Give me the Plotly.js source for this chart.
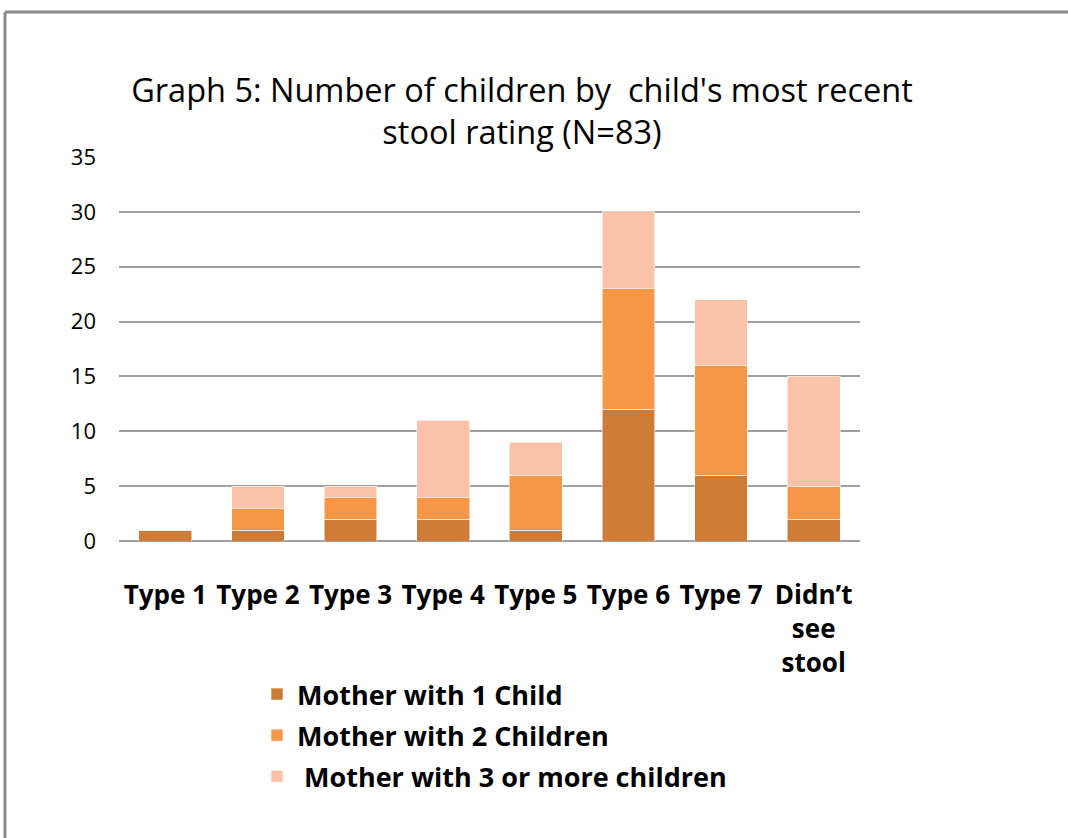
<!DOCTYPE html>
<html>
<head>
<meta charset="utf-8">
<script src="https://cdn.plot.ly/plotly-3.0.1.min.js"></script>
<style>
  html, body { margin: 0; padding: 0; background: #ffffff; }
  #chart { width: 1068px; height: 838px; }
</style>
</head>
<body>
<div id="chart"></div>
<script>
const categories = ["Type 1", "Type 2", "Type 3", "Type 4", "Type 5", "Type 6", "Type 7", "Didn’t<br>see<br>stool"];
const seriesNames = ["Mother with 1 Child", "Mother with 2 Children", " Mother with 3 or more children"];
const motherWith1Child = [1, 1, 2, 2, 1, 12, 6, 2];
const motherWith2Children = [0, 2, 2, 2, 5, 11, 10, 3];
const motherWith3OrMore = [0, 2, 1, 7, 3, 7, 6, 10];
const yTickValues = [0, 5, 10, 15, 20, 25, 30, 35];
const colors = ["#CD7B37", "#F79646", "#FAC3A9"];

const FONT = "'Open Sans', 'Noto Sans', sans-serif";
const seriesData = [motherWith1Child, motherWith2Children, motherWith3OrMore];

const traces = seriesData.map((vals, i) => ({
  type: "bar",
  name: seriesNames[i],
  legendgroup: "g" + i,
  x: categories,
  y: vals,
  marker: { color: colors[i], line: { color: "rgba(255,255,255,0.55)", width: 1 } },
  hoverinfo: "x+y+name"
}));

const L = 119, R = 860, T = 157, B = 541, W = 1068, H = 838;
const pw = R - L, ph = B - T;
const px = v => (v - L) / pw;
const py = v => (B - v) / ph;

const layout = {
  width: W,
  height: H,
  margin: { l: L, r: W - R, t: T, b: H - B, pad: 0 },
  paper_bgcolor: "#ffffff",
  plot_bgcolor: "#ffffff",
  barmode: "stack",
  bargap: 0.43,
  font: { family: FONT, color: "#000000" },
  title: {
    text: "Graph 5: Number of children by  child's most recent<br>stool rating (N=83)",
    font: { family: FONT, size: 32.5, color: "#000000" },
    xref: "container", yref: "container",
    x: 522 / W, xanchor: "center",
    y: 1 - 102 / H, yanchor: "top"
  },
  xaxis: {
    type: "category",
    tickangle: 0,
    showgrid: false,
    showline: false,
    ticks: "",
    tickfont: { family: FONT, size: 26, color: "#000000", weight: "bold" },
    ticklabelstandoff: 36
  },
  yaxis: {
    range: [0, 35],
    tickvals: yTickValues,
    ticktext: yTickValues.map(String),
    showgrid: true,
    gridcolor: "#A0A0A0",
    gridwidth: 2,
    zeroline: true,
    zerolinecolor: "#A0A0A0",
    zerolinewidth: 2,
    showline: false,
    ticks: "",
    tickfont: { family: FONT, size: 22, color: "#000000" },
    ticklabelstandoff: 22
  },
  showlegend: true,
  legend: {
    orientation: "v",
    x: px(257), xanchor: "left",
    y: py(670), yanchor: "top",
    font: { family: FONT, size: 27, color: "#000000", weight: "bold" },
    traceorder: "grouped",
    tracegroupgap: 3,
    bgcolor: "rgba(0,0,0,0)"
  },
  shapes: [
    { type: "line", xref: "paper", yref: "paper", x0: px(5), x1: px(1070), y0: py(12), y1: py(12), line: { color: "#888888", width: 3 } },
    { type: "line", xref: "paper", yref: "paper", x0: px(5), x1: px(5), y0: py(12), y1: py(840), line: { color: "#888888", width: 3 } }
  ]
};

Plotly.newPlot("chart", traces, layout, { displayModeBar: false, staticPlot: true });
</script>
</body>
</html>
